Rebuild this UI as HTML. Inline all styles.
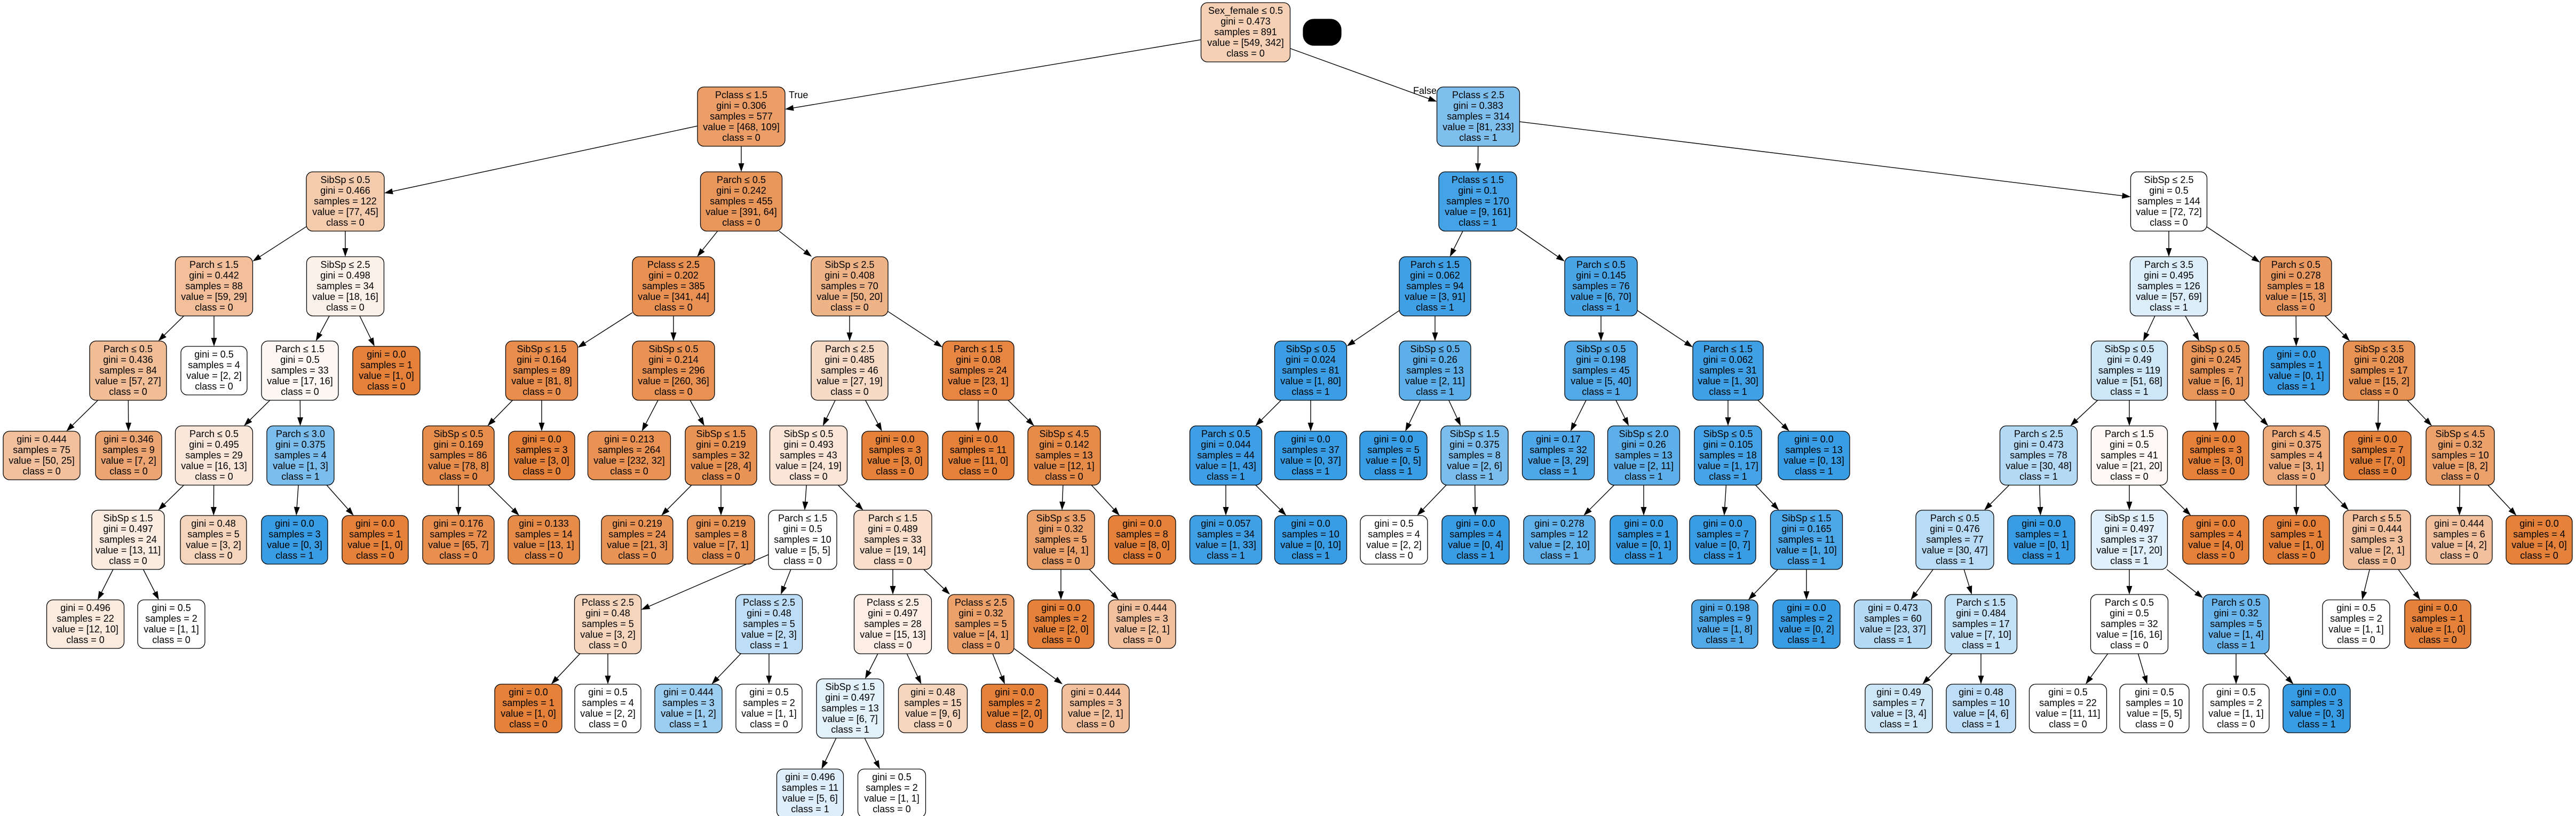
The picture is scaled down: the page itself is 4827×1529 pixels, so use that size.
<!DOCTYPE html>
<html><head><meta charset="utf-8">
<style>
html,body{margin:0;padding:0;background:#fff;}
svg{display:block;}
text{font-family:"Liberation Sans",sans-serif;font-size:18px;text-anchor:middle;fill:#000;}
rect{stroke:#000;stroke-width:1.3;}
.o rect{fill:#e58139}.b rect{fill:#399de5}.w rect{fill:#fff}
</style></head><body>
<svg id="s" width="4827" height="1529" viewBox="0 0 4827 1529" xmlns="http://www.w3.org/2000/svg">
<rect x="2442" y="36" width="71" height="49" rx="20" fill="#000" stroke="none"/>
<text x="1478" y="184" style="text-anchor:start">True</text>
<text x="2692" y="176" style="text-anchor:end">False</text>

<g id="n0" class="o" transform="translate(2334,5)"><rect x="-83.5" width="167" height="111" rx="12" fill-opacity=".377"/><g transform="scale(1)"><text y="21">Sex_female ≤ 0.5</text><text y="41">gini = 0.473</text><text y="61">samples = 891</text><text y="81">value = [549, 342]</text><text y="101">class = 0</text></g></g>
<g id="n1" class="o" transform="translate(1389,163)"><rect x="-82" width="164" height="111" rx="12" fill-opacity=".767"/><g transform="scale(1)"><text y="21">Pclass ≤ 1.5</text><text y="41">gini = 0.306</text><text y="61">samples = 577</text><text y="81">value = [468, 109]</text><text y="101">class = 0</text></g></g>
<g id="n2" class="b" transform="translate(2770,163)"><rect x="-77.5" width="155" height="111" rx="12" fill-opacity=".652"/><g transform="scale(1)"><text y="21">Pclass ≤ 2.5</text><text y="41">gini = 0.383</text><text y="61">samples = 314</text><text y="81">value = [81, 233]</text><text y="101">class = 1</text></g></g>
<g id="n3" class="o" transform="translate(647,322)"><rect x="-73" width="146" height="111" rx="12" fill-opacity=".416"/><g transform="scale(1)"><text y="21">SibSp ≤ 0.5</text><text y="41">gini = 0.466</text><text y="61">samples = 122</text><text y="81">value = [77, 45]</text><text y="101">class = 0</text></g></g>
<g id="n4" class="o" transform="translate(1389,322)"><rect x="-76.5" width="153" height="111" rx="12" fill-opacity=".836"/><g transform="scale(1)"><text y="21">Parch ≤ 0.5</text><text y="41">gini = 0.242</text><text y="61">samples = 455</text><text y="81">value = [391, 64]</text><text y="101">class = 0</text></g></g>
<g id="n5" class="b" transform="translate(2769,322)"><rect x="-73" width="146" height="111" rx="12" fill-opacity=".944"/><g transform="scale(1)"><text y="21">Pclass ≤ 1.5</text><text y="41">gini = 0.1</text><text y="61">samples = 170</text><text y="81">value = [9, 161]</text><text y="101">class = 1</text></g></g>
<g id="n6" class="w" transform="translate(4064,322)"><rect x="-71.5" width="143" height="111" rx="12"/><g transform="scale(1)"><text y="21">SibSp ≤ 2.5</text><text y="41">gini = 0.5</text><text y="61">samples = 144</text><text y="81">value = [72, 72]</text><text y="101">class = 0</text></g></g>
<g id="n7" class="o" transform="translate(401,481)"><rect x="-72.5" width="145" height="111" rx="12" fill-opacity=".508"/><g transform="scale(1)"><text y="21">Parch ≤ 1.5</text><text y="41">gini = 0.442</text><text y="61">samples = 88</text><text y="81">value = [59, 29]</text><text y="101">class = 0</text></g></g>
<g id="n8" class="o" transform="translate(647,481)"><rect x="-72.5" width="145" height="111" rx="12" fill-opacity=".111"/><g transform="scale(1)"><text y="21">SibSp ≤ 2.5</text><text y="41">gini = 0.498</text><text y="61">samples = 34</text><text y="81">value = [18, 16]</text><text y="101">class = 0</text></g></g>
<g id="n9" class="o" transform="translate(1262,481)"><rect x="-77" width="154" height="111" rx="12" fill-opacity=".871"/><g transform="scale(1)"><text y="21">Pclass ≤ 2.5</text><text y="41">gini = 0.202</text><text y="61">samples = 385</text><text y="81">value = [341, 44]</text><text y="101">class = 0</text></g></g>
<g id="n10" class="o" transform="translate(1592,481)"><rect x="-72" width="144" height="111" rx="12" fill-opacity=".6"/><g transform="scale(1)"><text y="21">SibSp ≤ 2.5</text><text y="41">gini = 0.408</text><text y="61">samples = 70</text><text y="81">value = [50, 20]</text><text y="101">class = 0</text></g></g>
<g id="n11" class="b" transform="translate(2689,481)"><rect x="-67" width="134" height="111" rx="12" fill-opacity=".967"/><g transform="scale(1)"><text y="21">Parch ≤ 1.5</text><text y="41">gini = 0.062</text><text y="61">samples = 94</text><text y="81">value = [3, 91]</text><text y="101">class = 1</text></g></g>
<g id="n12" class="b" transform="translate(3000,481)"><rect x="-68" width="136" height="111" rx="12" fill-opacity=".914"/><g transform="scale(1)"><text y="21">Parch ≤ 0.5</text><text y="41">gini = 0.145</text><text y="61">samples = 76</text><text y="81">value = [6, 70]</text><text y="101">class = 1</text></g></g>
<g id="n13" class="b" transform="translate(4064,481)"><rect x="-72.5" width="145" height="111" rx="12" fill-opacity=".174"/><g transform="scale(1)"><text y="21">Parch ≤ 3.5</text><text y="41">gini = 0.495</text><text y="61">samples = 126</text><text y="81">value = [57, 69]</text><text y="101">class = 1</text></g></g>
<g id="n14" class="o" transform="translate(4302,481)"><rect x="-67" width="134" height="111" rx="12" fill-opacity=".8"/><g transform="scale(1)"><text y="21">Parch ≤ 0.5</text><text y="41">gini = 0.278</text><text y="61">samples = 18</text><text y="81">value = [15, 3]</text><text y="101">class = 0</text></g></g>
<g id="n15" class="o" transform="translate(240,639)"><rect x="-72" width="144" height="111" rx="12" fill-opacity=".526"/><g transform="scale(1)"><text y="21">Parch ≤ 0.5</text><text y="41">gini = 0.436</text><text y="61">samples = 84</text><text y="81">value = [57, 27]</text><text y="101">class = 0</text></g></g>
<g id="n16" class="w" transform="translate(401,649)"><rect x="-62" width="124" height="91" rx="12"/><g transform="scale(1)"><text y="21">gini = 0.5</text><text y="41">samples = 4</text><text y="61">value = [2, 2]</text><text y="81">class = 0</text></g></g>
<g id="n17" class="o" transform="translate(562,639)"><rect x="-72" width="144" height="111" rx="12" fill-opacity=".059"/><g transform="scale(1)"><text y="21">Parch ≤ 1.5</text><text y="41">gini = 0.5</text><text y="61">samples = 33</text><text y="81">value = [17, 16]</text><text y="101">class = 0</text></g></g>
<g id="n18" class="o" transform="translate(724,649)"><rect x="-63" width="126" height="91" rx="12"/><g transform="scale(1)"><text y="21">gini = 0.0</text><text y="41">samples = 1</text><text y="61">value = [1, 0]</text><text y="81">class = 0</text></g></g>
<g id="n19" class="o" transform="translate(1015,639)"><rect x="-67.5" width="135" height="111" rx="12" fill-opacity=".901"/><g transform="scale(1)"><text y="21">SibSp ≤ 1.5</text><text y="41">gini = 0.164</text><text y="61">samples = 89</text><text y="81">value = [81, 8]</text><text y="101">class = 0</text></g></g>
<g id="n20" class="o" transform="translate(1262,639)"><rect x="-77" width="154" height="111" rx="12" fill-opacity=".862"/><g transform="scale(1)"><text y="21">SibSp ≤ 0.5</text><text y="41">gini = 0.214</text><text y="61">samples = 296</text><text y="81">value = [260, 36]</text><text y="101">class = 0</text></g></g>
<g id="n21" class="o" transform="translate(1592,639)"><rect x="-72" width="144" height="111" rx="12" fill-opacity=".296"/><g transform="scale(1)"><text y="21">Parch ≤ 2.5</text><text y="41">gini = 0.485</text><text y="61">samples = 46</text><text y="81">value = [27, 19]</text><text y="101">class = 0</text></g></g>
<g id="n22" class="o" transform="translate(1833,639)"><rect x="-67" width="134" height="111" rx="12" fill-opacity=".957"/><g transform="scale(1)"><text y="21">Parch ≤ 1.5</text><text y="41">gini = 0.08</text><text y="61">samples = 24</text><text y="81">value = [23, 1]</text><text y="101">class = 0</text></g></g>
<g id="n23" class="b" transform="translate(2456,639)"><rect x="-67.5" width="135" height="111" rx="12" fill-opacity=".988"/><g transform="scale(1)"><text y="21">SibSp ≤ 0.5</text><text y="41">gini = 0.024</text><text y="61">samples = 81</text><text y="81">value = [1, 80]</text><text y="101">class = 1</text></g></g>
<g id="n24" class="b" transform="translate(2689,639)"><rect x="-67" width="134" height="111" rx="12" fill-opacity=".818"/><g transform="scale(1)"><text y="21">SibSp ≤ 0.5</text><text y="41">gini = 0.26</text><text y="61">samples = 13</text><text y="81">value = [2, 11]</text><text y="101">class = 1</text></g></g>
<g id="n25" class="b" transform="translate(3000,639)"><rect x="-68" width="136" height="111" rx="12" fill-opacity=".875"/><g transform="scale(1)"><text y="21">SibSp ≤ 0.5</text><text y="41">gini = 0.198</text><text y="61">samples = 45</text><text y="81">value = [5, 40]</text><text y="101">class = 1</text></g></g>
<g id="n26" class="b" transform="translate(3238,639)"><rect x="-66" width="132" height="111" rx="12" fill-opacity=".967"/><g transform="scale(1)"><text y="21">Parch ≤ 1.5</text><text y="41">gini = 0.062</text><text y="61">samples = 31</text><text y="81">value = [1, 30]</text><text y="101">class = 1</text></g></g>
<g id="n27" class="b" transform="translate(3990,639)"><rect x="-71.5" width="143" height="111" rx="12" fill-opacity=".25"/><g transform="scale(1)"><text y="21">SibSp ≤ 0.5</text><text y="41">gini = 0.49</text><text y="61">samples = 119</text><text y="81">value = [51, 68]</text><text y="101">class = 1</text></g></g>
<g id="n28" class="o" transform="translate(4152,639)"><rect x="-62" width="124" height="111" rx="12" fill-opacity=".833"/><g transform="scale(1)"><text y="21">SibSp ≤ 0.5</text><text y="41">gini = 0.245</text><text y="61">samples = 7</text><text y="81">value = [6, 1]</text><text y="101">class = 0</text></g></g>
<g id="n29" class="b" transform="translate(4303,649)"><rect x="-62" width="124" height="91" rx="12"/><g transform="scale(1)"><text y="21">gini = 0.0</text><text y="41">samples = 1</text><text y="61">value = [0, 1]</text><text y="81">class = 1</text></g></g>
<g id="n30" class="o" transform="translate(4458,639)"><rect x="-67" width="134" height="111" rx="12" fill-opacity=".867"/><g transform="scale(1)"><text y="21">SibSp ≤ 3.5</text><text y="41">gini = 0.208</text><text y="61">samples = 17</text><text y="81">value = [15, 2]</text><text y="101">class = 0</text></g></g>
<g id="n31" class="o" transform="translate(78,808)"><rect x="-72" width="144" height="91" rx="12" fill-opacity=".5"/><g transform="scale(1)"><text y="21">gini = 0.444</text><text y="41">samples = 75</text><text y="61">value = [50, 25]</text><text y="81">class = 0</text></g></g>
<g id="n32" class="o" transform="translate(241,808)"><rect x="-62" width="124" height="91" rx="12" fill-opacity=".714"/><g transform="scale(1)"><text y="21">gini = 0.346</text><text y="41">samples = 9</text><text y="61">value = [7, 2]</text><text y="81">class = 0</text></g></g>
<g id="n33" class="o" transform="translate(401,798)"><rect x="-72.5" width="145" height="111" rx="12" fill-opacity=".1875"/><g transform="scale(1)"><text y="21">Parch ≤ 0.5</text><text y="41">gini = 0.495</text><text y="61">samples = 29</text><text y="81">value = [16, 13]</text><text y="101">class = 0</text></g></g>
<g id="n34" class="b" transform="translate(563,798)"><rect x="-63" width="126" height="111" rx="12" fill-opacity=".667"/><g transform="scale(1)"><text y="21">Parch ≤ 3.0</text><text y="41">gini = 0.375</text><text y="61">samples = 4</text><text y="81">value = [1, 3]</text><text y="101">class = 1</text></g></g>
<g id="n35" class="o" transform="translate(859,798)"><rect x="-67" width="134" height="111" rx="12" fill-opacity=".897"/><g transform="scale(1)"><text y="21">SibSp ≤ 0.5</text><text y="41">gini = 0.169</text><text y="61">samples = 86</text><text y="81">value = [78, 8]</text><text y="101">class = 0</text></g></g>
<g id="n36" class="o" transform="translate(1015,808)"><rect x="-62" width="124" height="91" rx="12"/><g transform="scale(1)"><text y="21">gini = 0.0</text><text y="41">samples = 3</text><text y="61">value = [3, 0]</text><text y="81">class = 0</text></g></g>
<g id="n37" class="o" transform="translate(1179,808)"><rect x="-77.5" width="155" height="91" rx="12" fill-opacity=".862"/><g transform="scale(1)"><text y="21">gini = 0.213</text><text y="41">samples = 264</text><text y="61">value = [232, 32]</text><text y="81">class = 0</text></g></g>
<g id="n38" class="o" transform="translate(1351,798)"><rect x="-67" width="134" height="111" rx="12" fill-opacity=".857"/><g transform="scale(1)"><text y="21">SibSp ≤ 1.5</text><text y="41">gini = 0.219</text><text y="61">samples = 32</text><text y="81">value = [28, 4]</text><text y="101">class = 0</text></g></g>
<g id="n39" class="o" transform="translate(1515,798)"><rect x="-72.5" width="145" height="111" rx="12" fill-opacity=".208"/><g transform="scale(1)"><text y="21">SibSp ≤ 0.5</text><text y="41">gini = 0.493</text><text y="61">samples = 43</text><text y="81">value = [24, 19]</text><text y="101">class = 0</text></g></g>
<g id="n40" class="o" transform="translate(1677,808)"><rect x="-62" width="124" height="91" rx="12"/><g transform="scale(1)"><text y="21">gini = 0.0</text><text y="41">samples = 3</text><text y="61">value = [3, 0]</text><text y="81">class = 0</text></g></g>
<g id="n41" class="o" transform="translate(1833,808)"><rect x="-67" width="134" height="91" rx="12"/><g transform="scale(1)"><text y="21">gini = 0.0</text><text y="41">samples = 11</text><text y="61">value = [11, 0]</text><text y="81">class = 0</text></g></g>
<g id="n42" class="o" transform="translate(1994,798)"><rect x="-68" width="136" height="111" rx="12" fill-opacity=".917"/><g transform="scale(1)"><text y="21">SibSp ≤ 4.5</text><text y="41">gini = 0.142</text><text y="61">samples = 13</text><text y="81">value = [12, 1]</text><text y="101">class = 0</text></g></g>
<g id="n43" class="b" transform="translate(2297,798)"><rect x="-67.5" width="135" height="111" rx="12" fill-opacity=".977"/><g transform="scale(1)"><text y="21">Parch ≤ 0.5</text><text y="41">gini = 0.044</text><text y="61">samples = 44</text><text y="81">value = [1, 43]</text><text y="101">class = 1</text></g></g>
<g id="n44" class="b" transform="translate(2456,808)"><rect x="-67.5" width="135" height="91" rx="12"/><g transform="scale(1)"><text y="21">gini = 0.0</text><text y="41">samples = 37</text><text y="61">value = [0, 37]</text><text y="81">class = 1</text></g></g>
<g id="n45" class="b" transform="translate(2611,808)"><rect x="-63" width="126" height="91" rx="12"/><g transform="scale(1)"><text y="21">gini = 0.0</text><text y="41">samples = 5</text><text y="61">value = [0, 5]</text><text y="81">class = 1</text></g></g>
<g id="n46" class="b" transform="translate(2763,798)"><rect x="-63" width="126" height="111" rx="12" fill-opacity=".667"/><g transform="scale(1)"><text y="21">SibSp ≤ 1.5</text><text y="41">gini = 0.375</text><text y="61">samples = 8</text><text y="81">value = [2, 6]</text><text y="101">class = 1</text></g></g>
<g id="n47" class="b" transform="translate(2920,808)"><rect x="-67.5" width="135" height="91" rx="12" fill-opacity=".897"/><g transform="scale(1)"><text y="21">gini = 0.17</text><text y="41">samples = 32</text><text y="61">value = [3, 29]</text><text y="81">class = 1</text></g></g>
<g id="n48" class="b" transform="translate(3080,798)"><rect x="-67.5" width="135" height="111" rx="12" fill-opacity=".818"/><g transform="scale(1)"><text y="21">SibSp ≤ 2.0</text><text y="41">gini = 0.26</text><text y="61">samples = 13</text><text y="81">value = [2, 11]</text><text y="101">class = 1</text></g></g>
<g id="n49" class="b" transform="translate(3238,798)"><rect x="-63" width="126" height="111" rx="12" fill-opacity=".941"/><g transform="scale(1)"><text y="21">SibSp ≤ 0.5</text><text y="41">gini = 0.105</text><text y="61">samples = 18</text><text y="81">value = [1, 17]</text><text y="101">class = 1</text></g></g>
<g id="n50" class="b" transform="translate(3399,808)"><rect x="-67" width="134" height="91" rx="12"/><g transform="scale(1)"><text y="21">gini = 0.0</text><text y="41">samples = 13</text><text y="61">value = [0, 13]</text><text y="81">class = 1</text></g></g>
<g id="n51" class="b" transform="translate(3820,798)"><rect x="-72.5" width="145" height="111" rx="12" fill-opacity=".375"/><g transform="scale(1)"><text y="21">Parch ≤ 2.5</text><text y="41">gini = 0.473</text><text y="61">samples = 78</text><text y="81">value = [30, 48]</text><text y="101">class = 1</text></g></g>
<g id="n52" class="o" transform="translate(3990,798)"><rect x="-71.5" width="143" height="111" rx="12" fill-opacity=".048"/><g transform="scale(1)"><text y="21">Parch ≤ 1.5</text><text y="41">gini = 0.5</text><text y="61">samples = 41</text><text y="81">value = [21, 20]</text><text y="101">class = 0</text></g></g>
<g id="n53" class="o" transform="translate(4152,808)"><rect x="-62" width="124" height="91" rx="12"/><g transform="scale(1)"><text y="21">gini = 0.0</text><text y="41">samples = 3</text><text y="61">value = [3, 0]</text><text y="81">class = 0</text></g></g>
<g id="n54" class="o" transform="translate(4303,798)"><rect x="-62" width="124" height="111" rx="12" fill-opacity=".667"/><g transform="scale(1)"><text y="21">Parch ≤ 4.5</text><text y="41">gini = 0.375</text><text y="61">samples = 4</text><text y="81">value = [3, 1]</text><text y="101">class = 0</text></g></g>
<g id="n55" class="o" transform="translate(4455,808)"><rect x="-63" width="126" height="91" rx="12"/><g transform="scale(1)"><text y="21">gini = 0.0</text><text y="41">samples = 7</text><text y="61">value = [7, 0]</text><text y="81">class = 0</text></g></g>
<g id="n56" class="o" transform="translate(4610,798)"><rect x="-64" width="128" height="111" rx="12" fill-opacity=".75"/><g transform="scale(1)"><text y="21">SibSp ≤ 4.5</text><text y="41">gini = 0.32</text><text y="61">samples = 10</text><text y="81">value = [8, 2]</text><text y="101">class = 0</text></g></g>
<g id="n57" class="o" transform="translate(240,956)"><rect x="-68" width="136" height="111" rx="12" fill-opacity=".154"/><g transform="scale(1)"><text y="21">SibSp ≤ 1.5</text><text y="41">gini = 0.497</text><text y="61">samples = 24</text><text y="81">value = [13, 11]</text><text y="101">class = 0</text></g></g>
<g id="n58" class="o" transform="translate(400,966)"><rect x="-62" width="124" height="91" rx="12" fill-opacity=".333"/><g transform="scale(1)"><text y="21">gini = 0.48</text><text y="41">samples = 5</text><text y="61">value = [3, 2]</text><text y="81">class = 0</text></g></g>
<g id="n59" class="b" transform="translate(552,966)"><rect x="-62" width="124" height="91" rx="12"/><g transform="scale(1)"><text y="21">gini = 0.0</text><text y="41">samples = 3</text><text y="61">value = [0, 3]</text><text y="81">class = 1</text></g></g>
<g id="n60" class="o" transform="translate(703,966)"><rect x="-62" width="124" height="91" rx="12"/><g transform="scale(1)"><text y="21">gini = 0.0</text><text y="41">samples = 1</text><text y="61">value = [1, 0]</text><text y="81">class = 0</text></g></g>
<g id="n61" class="o" transform="translate(859,966)"><rect x="-67" width="134" height="91" rx="12" fill-opacity=".892"/><g transform="scale(1)"><text y="21">gini = 0.176</text><text y="41">samples = 72</text><text y="61">value = [65, 7]</text><text y="81">class = 0</text></g></g>
<g id="n62" class="o" transform="translate(1019,966)"><rect x="-67" width="134" height="91" rx="12" fill-opacity=".923"/><g transform="scale(1)"><text y="21">gini = 0.133</text><text y="41">samples = 14</text><text y="61">value = [13, 1]</text><text y="81">class = 0</text></g></g>
<g id="n63" class="o" transform="translate(1194,966)"><rect x="-67" width="134" height="91" rx="12" fill-opacity=".857"/><g transform="scale(1)"><text y="21">gini = 0.219</text><text y="41">samples = 24</text><text y="61">value = [21, 3]</text><text y="81">class = 0</text></g></g>
<g id="n64" class="o" transform="translate(1351,966)"><rect x="-63" width="126" height="91" rx="12" fill-opacity=".857"/><g transform="scale(1)"><text y="21">gini = 0.219</text><text y="41">samples = 8</text><text y="61">value = [7, 1]</text><text y="81">class = 0</text></g></g>
<g id="n65" class="w" transform="translate(1504,956)"><rect x="-64" width="128" height="111" rx="12"/><g transform="scale(1)"><text y="21">Parch ≤ 1.5</text><text y="41">gini = 0.5</text><text y="61">samples = 10</text><text y="81">value = [5, 5]</text><text y="101">class = 0</text></g></g>
<g id="n66" class="o" transform="translate(1673,956)"><rect x="-73" width="146" height="111" rx="12" fill-opacity=".263"/><g transform="scale(1)"><text y="21">Parch ≤ 1.5</text><text y="41">gini = 0.489</text><text y="61">samples = 33</text><text y="81">value = [19, 14]</text><text y="101">class = 0</text></g></g>
<g id="n67" class="o" transform="translate(1988,956)"><rect x="-63" width="126" height="111" rx="12" fill-opacity=".75"/><g transform="scale(1)"><text y="21">SibSp ≤ 3.5</text><text y="41">gini = 0.32</text><text y="61">samples = 5</text><text y="81">value = [4, 1]</text><text y="101">class = 0</text></g></g>
<g id="n68" class="o" transform="translate(2140,966)"><rect x="-63" width="126" height="91" rx="12"/><g transform="scale(1)"><text y="21">gini = 0.0</text><text y="41">samples = 8</text><text y="61">value = [8, 0]</text><text y="81">class = 0</text></g></g>
<g id="n69" class="b" transform="translate(2297,966)"><rect x="-67.5" width="135" height="91" rx="12" fill-opacity=".97"/><g transform="scale(1)"><text y="21">gini = 0.057</text><text y="41">samples = 34</text><text y="61">value = [1, 33]</text><text y="81">class = 1</text></g></g>
<g id="n70" class="b" transform="translate(2456,966)"><rect x="-67.5" width="135" height="91" rx="12"/><g transform="scale(1)"><text y="21">gini = 0.0</text><text y="41">samples = 10</text><text y="61">value = [0, 10]</text><text y="81">class = 1</text></g></g>
<g id="n71" class="w" transform="translate(2612,966)"><rect x="-63" width="126" height="91" rx="12"/><g transform="scale(1)"><text y="21">gini = 0.5</text><text y="41">samples = 4</text><text y="61">value = [2, 2]</text><text y="81">class = 0</text></g></g>
<g id="n72" class="b" transform="translate(2765,966)"><rect x="-63" width="126" height="91" rx="12"/><g transform="scale(1)"><text y="21">gini = 0.0</text><text y="41">samples = 4</text><text y="61">value = [0, 4]</text><text y="81">class = 1</text></g></g>
<g id="n73" class="b" transform="translate(2922,966)"><rect x="-67" width="134" height="91" rx="12" fill-opacity=".8"/><g transform="scale(1)"><text y="21">gini = 0.278</text><text y="41">samples = 12</text><text y="61">value = [2, 10]</text><text y="81">class = 1</text></g></g>
<g id="n74" class="b" transform="translate(3080,966)"><rect x="-63" width="126" height="91" rx="12"/><g transform="scale(1)"><text y="21">gini = 0.0</text><text y="41">samples = 1</text><text y="61">value = [0, 1]</text><text y="81">class = 1</text></g></g>
<g id="n75" class="b" transform="translate(3228,966)"><rect x="-62" width="124" height="91" rx="12"/><g transform="scale(1)"><text y="21">gini = 0.0</text><text y="41">samples = 7</text><text y="61">value = [0, 7]</text><text y="81">class = 1</text></g></g>
<g id="n76" class="b" transform="translate(3385,956)"><rect x="-67.5" width="135" height="111" rx="12" fill-opacity=".9"/><g transform="scale(1)"><text y="21">SibSp ≤ 1.5</text><text y="41">gini = 0.165</text><text y="61">samples = 11</text><text y="81">value = [1, 10]</text><text y="101">class = 1</text></g></g>
<g id="n77" class="b" transform="translate(3663,956)"><rect x="-73" width="146" height="111" rx="12" fill-opacity=".362"/><g transform="scale(1)"><text y="21">Parch ≤ 0.5</text><text y="41">gini = 0.476</text><text y="61">samples = 77</text><text y="81">value = [30, 47]</text><text y="101">class = 1</text></g></g>
<g id="n78" class="b" transform="translate(3825,966)"><rect x="-63" width="126" height="91" rx="12"/><g transform="scale(1)"><text y="21">gini = 0.0</text><text y="41">samples = 1</text><text y="61">value = [0, 1]</text><text y="81">class = 1</text></g></g>
<g id="n79" class="b" transform="translate(3990,956)"><rect x="-71.5" width="143" height="111" rx="12" fill-opacity=".15"/><g transform="scale(1)"><text y="21">SibSp ≤ 1.5</text><text y="41">gini = 0.497</text><text y="61">samples = 37</text><text y="81">value = [17, 20]</text><text y="101">class = 1</text></g></g>
<g id="n80" class="o" transform="translate(4152,966)"><rect x="-62" width="124" height="91" rx="12"/><g transform="scale(1)"><text y="21">gini = 0.0</text><text y="41">samples = 4</text><text y="61">value = [4, 0]</text><text y="81">class = 0</text></g></g>
<g id="n81" class="o" transform="translate(4303,966)"><rect x="-62" width="124" height="91" rx="12"/><g transform="scale(1)"><text y="21">gini = 0.0</text><text y="41">samples = 1</text><text y="61">value = [1, 0]</text><text y="81">class = 0</text></g></g>
<g id="n82" class="o" transform="translate(4454,956)"><rect x="-63" width="126" height="111" rx="12" fill-opacity=".5"/><g transform="scale(1)"><text y="21">Parch ≤ 5.5</text><text y="41">gini = 0.444</text><text y="61">samples = 3</text><text y="81">value = [2, 1]</text><text y="101">class = 0</text></g></g>
<g id="n83" class="o" transform="translate(4608,966)"><rect x="-62" width="124" height="91" rx="12" fill-opacity=".5"/><g transform="scale(1)"><text y="21">gini = 0.444</text><text y="41">samples = 6</text><text y="61">value = [4, 2]</text><text y="81">class = 0</text></g></g>
<g id="n84" class="o" transform="translate(4758,966)"><rect x="-62" width="124" height="91" rx="12"/><g transform="scale(1)"><text y="21">gini = 0.0</text><text y="41">samples = 4</text><text y="61">value = [4, 0]</text><text y="81">class = 0</text></g></g>
<g id="n85" class="o" transform="translate(160,1124)"><rect x="-72.5" width="145" height="91" rx="12" fill-opacity=".167"/><g transform="scale(1)"><text y="21">gini = 0.496</text><text y="41">samples = 22</text><text y="61">value = [12, 10]</text><text y="81">class = 0</text></g></g>
<g id="n86" class="w" transform="translate(321,1124)"><rect x="-63" width="126" height="91" rx="12"/><g transform="scale(1)"><text y="21">gini = 0.5</text><text y="41">samples = 2</text><text y="61">value = [1, 1]</text><text y="81">class = 0</text></g></g>
<g id="n87" class="o" transform="translate(1139,1114)"><rect x="-62.5" width="125" height="111" rx="12" fill-opacity=".333"/><g transform="scale(1)"><text y="21">Pclass ≤ 2.5</text><text y="41">gini = 0.48</text><text y="61">samples = 5</text><text y="81">value = [3, 2]</text><text y="101">class = 0</text></g></g>
<g id="n88" class="b" transform="translate(1441,1114)"><rect x="-62.5" width="125" height="111" rx="12" fill-opacity=".333"/><g transform="scale(1)"><text y="21">Pclass ≤ 2.5</text><text y="41">gini = 0.48</text><text y="61">samples = 5</text><text y="81">value = [2, 3]</text><text y="101">class = 1</text></g></g>
<g id="n89" class="o" transform="translate(1673,1114)"><rect x="-72.5" width="145" height="111" rx="12" fill-opacity=".133"/><g transform="scale(1)"><text y="21">Pclass ≤ 2.5</text><text y="41">gini = 0.497</text><text y="61">samples = 28</text><text y="81">value = [15, 13]</text><text y="101">class = 0</text></g></g>
<g id="n90" class="o" transform="translate(1838,1114)"><rect x="-62" width="124" height="111" rx="12" fill-opacity=".75"/><g transform="scale(1)"><text y="21">Pclass ≤ 2.5</text><text y="41">gini = 0.32</text><text y="61">samples = 5</text><text y="81">value = [4, 1]</text><text y="101">class = 0</text></g></g>
<g id="n91" class="o" transform="translate(1988,1124)"><rect x="-62" width="124" height="91" rx="12"/><g transform="scale(1)"><text y="21">gini = 0.0</text><text y="41">samples = 2</text><text y="61">value = [2, 0]</text><text y="81">class = 0</text></g></g>
<g id="n92" class="o" transform="translate(2140,1124)"><rect x="-63" width="126" height="91" rx="12" fill-opacity=".5"/><g transform="scale(1)"><text y="21">gini = 0.444</text><text y="41">samples = 3</text><text y="61">value = [2, 1]</text><text y="81">class = 0</text></g></g>
<g id="n93" class="b" transform="translate(3232,1124)"><rect x="-62" width="124" height="91" rx="12" fill-opacity=".875"/><g transform="scale(1)"><text y="21">gini = 0.198</text><text y="41">samples = 9</text><text y="61">value = [1, 8]</text><text y="81">class = 1</text></g></g>
<g id="n94" class="b" transform="translate(3385,1124)"><rect x="-63" width="126" height="91" rx="12"/><g transform="scale(1)"><text y="21">gini = 0.0</text><text y="41">samples = 2</text><text y="61">value = [0, 2]</text><text y="81">class = 1</text></g></g>
<g id="n95" class="b" transform="translate(3547,1124)"><rect x="-72.5" width="145" height="91" rx="12" fill-opacity=".378"/><g transform="scale(1)"><text y="21">gini = 0.473</text><text y="41">samples = 60</text><text y="61">value = [23, 37]</text><text y="81">class = 1</text></g></g>
<g id="n96" class="b" transform="translate(3712,1114)"><rect x="-67.5" width="135" height="111" rx="12" fill-opacity=".3"/><g transform="scale(1)"><text y="21">Parch ≤ 1.5</text><text y="41">gini = 0.484</text><text y="61">samples = 17</text><text y="81">value = [7, 10]</text><text y="101">class = 1</text></g></g>
<g id="n97" class="w" transform="translate(3990,1114)"><rect x="-72.5" width="145" height="111" rx="12"/><g transform="scale(1)"><text y="21">Parch ≤ 0.5</text><text y="41">gini = 0.5</text><text y="61">samples = 32</text><text y="81">value = [16, 16]</text><text y="101">class = 0</text></g></g>
<g id="n98" class="b" transform="translate(4190,1114)"><rect x="-62" width="124" height="111" rx="12" fill-opacity=".75"/><g transform="scale(1)"><text y="21">Parch ≤ 0.5</text><text y="41">gini = 0.32</text><text y="61">samples = 5</text><text y="81">value = [1, 4]</text><text y="101">class = 1</text></g></g>
<g id="n99" class="w" transform="translate(4415,1124)"><rect x="-63" width="126" height="91" rx="12"/><g transform="scale(1)"><text y="21">gini = 0.5</text><text y="41">samples = 2</text><text y="61">value = [1, 1]</text><text y="81">class = 0</text></g></g>
<g id="n100" class="o" transform="translate(4568,1124)"><rect x="-62" width="124" height="91" rx="12"/><g transform="scale(1)"><text y="21">gini = 0.0</text><text y="41">samples = 1</text><text y="61">value = [1, 0]</text><text y="81">class = 0</text></g></g>
<g id="n101" class="o" transform="translate(990,1282)"><rect x="-63" width="126" height="91" rx="12"/><g transform="scale(1)"><text y="21">gini = 0.0</text><text y="41">samples = 1</text><text y="61">value = [1, 0]</text><text y="81">class = 0</text></g></g>
<g id="n102" class="w" transform="translate(1139,1282)"><rect x="-62" width="124" height="91" rx="12"/><g transform="scale(1)"><text y="21">gini = 0.5</text><text y="41">samples = 4</text><text y="61">value = [2, 2]</text><text y="81">class = 0</text></g></g>
<g id="n103" class="b" transform="translate(1290,1282)"><rect x="-63" width="126" height="91" rx="12" fill-opacity=".5"/><g transform="scale(1)"><text y="21">gini = 0.444</text><text y="41">samples = 3</text><text y="61">value = [1, 2]</text><text y="81">class = 1</text></g></g>
<g id="n104" class="w" transform="translate(1441,1282)"><rect x="-62" width="124" height="91" rx="12"/><g transform="scale(1)"><text y="21">gini = 0.5</text><text y="41">samples = 2</text><text y="61">value = [1, 1]</text><text y="81">class = 0</text></g></g>
<g id="n105" class="b" transform="translate(1593,1272)"><rect x="-63" width="126" height="111" rx="12" fill-opacity=".143"/><g transform="scale(1)"><text y="21">SibSp ≤ 1.5</text><text y="41">gini = 0.497</text><text y="61">samples = 13</text><text y="81">value = [6, 7]</text><text y="101">class = 1</text></g></g>
<g id="n106" class="o" transform="translate(1748,1282)"><rect x="-64.5" width="129" height="91" rx="12" fill-opacity=".333"/><g transform="scale(1)"><text y="21">gini = 0.48</text><text y="41">samples = 15</text><text y="61">value = [9, 6]</text><text y="81">class = 0</text></g></g>
<g id="n107" class="o" transform="translate(1901,1282)"><rect x="-62" width="124" height="91" rx="12"/><g transform="scale(1)"><text y="21">gini = 0.0</text><text y="41">samples = 2</text><text y="61">value = [2, 0]</text><text y="81">class = 0</text></g></g>
<g id="n108" class="o" transform="translate(2053,1282)"><rect x="-63" width="126" height="91" rx="12" fill-opacity=".5"/><g transform="scale(1)"><text y="21">gini = 0.444</text><text y="41">samples = 3</text><text y="61">value = [2, 1]</text><text y="81">class = 0</text></g></g>
<g id="n109" class="b" transform="translate(3558,1282)"><rect x="-63" width="126" height="91" rx="12" fill-opacity=".25"/><g transform="scale(1)"><text y="21">gini = 0.49</text><text y="41">samples = 7</text><text y="61">value = [3, 4]</text><text y="81">class = 1</text></g></g>
<g id="n110" class="b" transform="translate(3712,1282)"><rect x="-65" width="130" height="91" rx="12" fill-opacity=".333"/><g transform="scale(1)"><text y="21">gini = 0.48</text><text y="41">samples = 10</text><text y="61">value = [4, 6]</text><text y="81">class = 1</text></g></g>
<g id="n111" class="w" transform="translate(3875,1282)"><rect x="-72.5" width="145" height="91" rx="12"/><g transform="scale(1)"><text y="21">gini = 0.5</text><text y="41">samples = 22</text><text y="61">value = [11, 11]</text><text y="81">class = 0</text></g></g>
<g id="n112" class="w" transform="translate(4037,1282)"><rect x="-65" width="130" height="91" rx="12"/><g transform="scale(1)"><text y="21">gini = 0.5</text><text y="41">samples = 10</text><text y="61">value = [5, 5]</text><text y="81">class = 0</text></g></g>
<g id="n113" class="w" transform="translate(4190,1282)"><rect x="-62" width="124" height="91" rx="12"/><g transform="scale(1)"><text y="21">gini = 0.5</text><text y="41">samples = 2</text><text y="61">value = [1, 1]</text><text y="81">class = 0</text></g></g>
<g id="n114" class="b" transform="translate(4341,1282)"><rect x="-63" width="126" height="91" rx="12"/><g transform="scale(1)"><text y="21">gini = 0.0</text><text y="41">samples = 3</text><text y="61">value = [0, 3]</text><text y="81">class = 1</text></g></g>
<g id="n115" class="b" transform="translate(1518,1441)"><rect x="-62.5" width="125" height="91" rx="12" fill-opacity=".167"/><g transform="scale(1)"><text y="21">gini = 0.496</text><text y="41">samples = 11</text><text y="61">value = [5, 6]</text><text y="81">class = 1</text></g></g>
<g id="n116" class="w" transform="translate(1671,1441)"><rect x="-63.5" width="127" height="91" rx="12"/><g transform="scale(1)"><text y="21">gini = 0.5</text><text y="41">samples = 2</text><text y="61">value = [1, 1]</text><text y="81">class = 0</text></g></g>
</svg>
<script>
(function(){
var P=[0,0,1,1,2,2,3,3,4,4,5,5,6,6,7,7,8,8,9,9,10,10,11,11,12,12,13,13,14,14,15,15,17,17,19,19,20,20,21,21,22,22,23,23,24,24,25,25,26,26,27,27,28,28,30,30,33,33,34,34,35,35,38,38,39,39,42,42,43,43,46,46,48,48,49,49,51,51,52,52,54,54,56,56,57,57,65,65,66,66,67,67,76,76,77,77,79,79,82,82,87,87,88,88,89,89,90,90,96,96,97,97,98,98,105,105];
var svg=document.getElementById('s'),NS='http://www.w3.org/2000/svg';
function box(i){var g=document.getElementById('n'+i);var m=g.transform.baseVal.consolidate().matrix;var r=g.querySelector('rect');var w=+r.getAttribute('width'),h=+r.getAttribute('height');return{x:m.e,y:m.f+h/2,w:w/2,h:h/2};}
var frag=document.createDocumentFragment();
for(var i=1;i<=116;i++){
 var a=box(P[i-1]),b=box(i);
 var dx=b.x-a.x,dy=b.y-a.y;
 var t1=Math.min(dx?a.w/Math.abs(dx):1e9,a.h/Math.abs(dy));
 var t2=Math.min(dx?b.w/Math.abs(dx):1e9,b.h/Math.abs(dy));
 var sx=a.x+dx*t1,sy=a.y+dy*t1,ex=b.x-dx*t2,ey=b.y-dy*t2;
 var L=Math.hypot(ex-sx,ey-sy),ux=(ex-sx)/L,uy=(ey-sy)/L;
 var bx=ex-ux*16,by=ey-uy*16;
 var l=document.createElementNS(NS,'line');
 l.setAttribute('x1',sx);l.setAttribute('y1',sy);l.setAttribute('x2',bx);l.setAttribute('y2',by);
 l.setAttribute('stroke','#000');l.setAttribute('stroke-width','1.4');
 frag.appendChild(l);
 var pg=document.createElementNS(NS,'polygon');
 pg.setAttribute('points',ex+','+ey+' '+(bx-uy*5.5)+','+(by+ux*5.5)+' '+(bx+uy*5.5)+','+(by-ux*5.5));
 pg.setAttribute('fill','#000');
 frag.appendChild(pg);
}
svg.insertBefore(frag,svg.firstChild);
})();
</script>
</body></html>
